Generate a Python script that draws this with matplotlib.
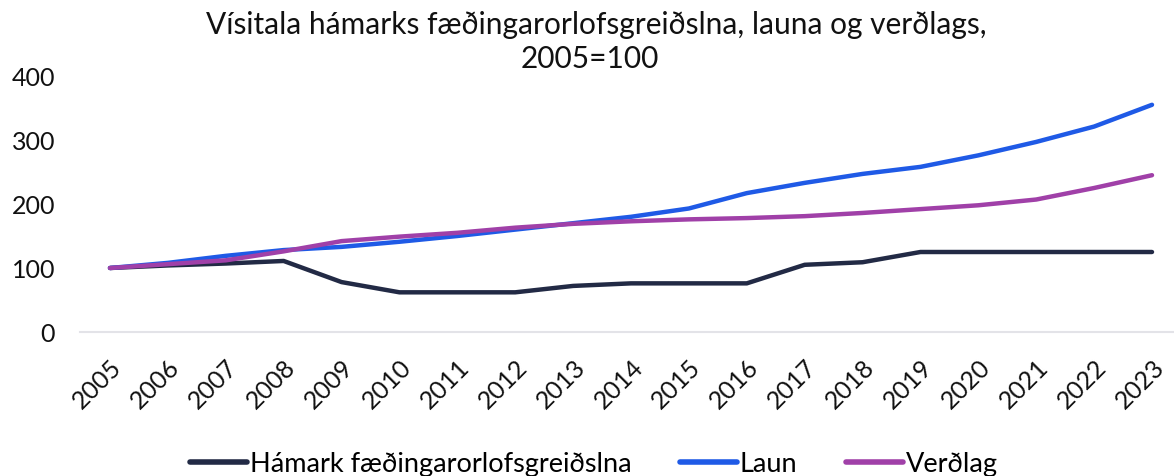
import matplotlib
matplotlib.use("Agg")
import matplotlib.pyplot as plt

years = list(range(2005, 2024))
hamark = [100, 104, 107, 111, 78, 62, 62, 62, 72, 76, 76, 76, 105, 109, 125, 125, 125, 125, 125]
laun = [100, 108, 119, 128, 133, 141, 150, 160, 170, 180, 193, 217, 233, 247, 258, 276, 297, 321, 355]
verdlag = [100, 106, 112, 126, 142, 149, 155, 163, 169, 173, 176, 178, 181, 186, 192, 198, 207, 225, 245]
series_names = ["Hámark fæðingarorlofsgreiðslna", "Laun", "Verðlag"]
yticks = [0, 100, 200, 300, 400]
title_line1 = "Vísitala hámarks fæðingarorlofsgreiðslna, launa og verðlags,"
title_line2 = "2005=100"

plt.rcParams['font.family'] = ['Lato', 'DejaVu Sans']

fig = plt.figure(figsize=(11.74, 4.77), dpi=100)
ax = fig.add_axes([80/1174, 1-333/477, 1-80/1174, (333-77)/477])

colors = ["#222a45", "#1f5ae6", "#a040a8"]
for vals, name, c in zip([hamark, laun, verdlag], series_names, colors):
    ax.plot(years, vals, color=c, lw=3.2, label=name, solid_capstyle='round',
            solid_joinstyle='round', clip_on=False)

ax.set_xlim(2005 - 30/57.9, 2023 + 22/57.9)
ax.set_ylim(0, 400)
ax.set_yticks(yticks)
ax.set_xticks(years)
ax.set_xticklabels([str(y) for y in years], rotation=45, ha='right', rotation_mode='anchor')
ax.tick_params(axis='both', length=0, labelsize=18, colors='#111111')
ax.tick_params(axis='y', pad=18)
ax.tick_params(axis='x', pad=16)
for s in ['top', 'right', 'left']:
    ax.spines[s].set_visible(False)
ax.spines['bottom'].set_color('#e3e3e8')
ax.spines['bottom'].set_linewidth(1.5)
ax.spines['bottom'].set_zorder(0)

fig.text(596/1174, 1-34/477, title_line1, ha='center', va='baseline', fontsize=21.5, color='#111111')
fig.text(590/1174, 1-68/477, title_line2, ha='center', va='baseline', fontsize=21.5, color='#111111')

leg = fig.legend(loc='center', bbox_to_anchor=(594/1174, 1-465/477), ncol=3, frameon=False,
                 fontsize=19.5, handlelength=2.1, handletextpad=0.1, columnspacing=1.8)
for h in leg.get_lines():
    h.set_linewidth(4)

fig.savefig("out.png", dpi=100)
